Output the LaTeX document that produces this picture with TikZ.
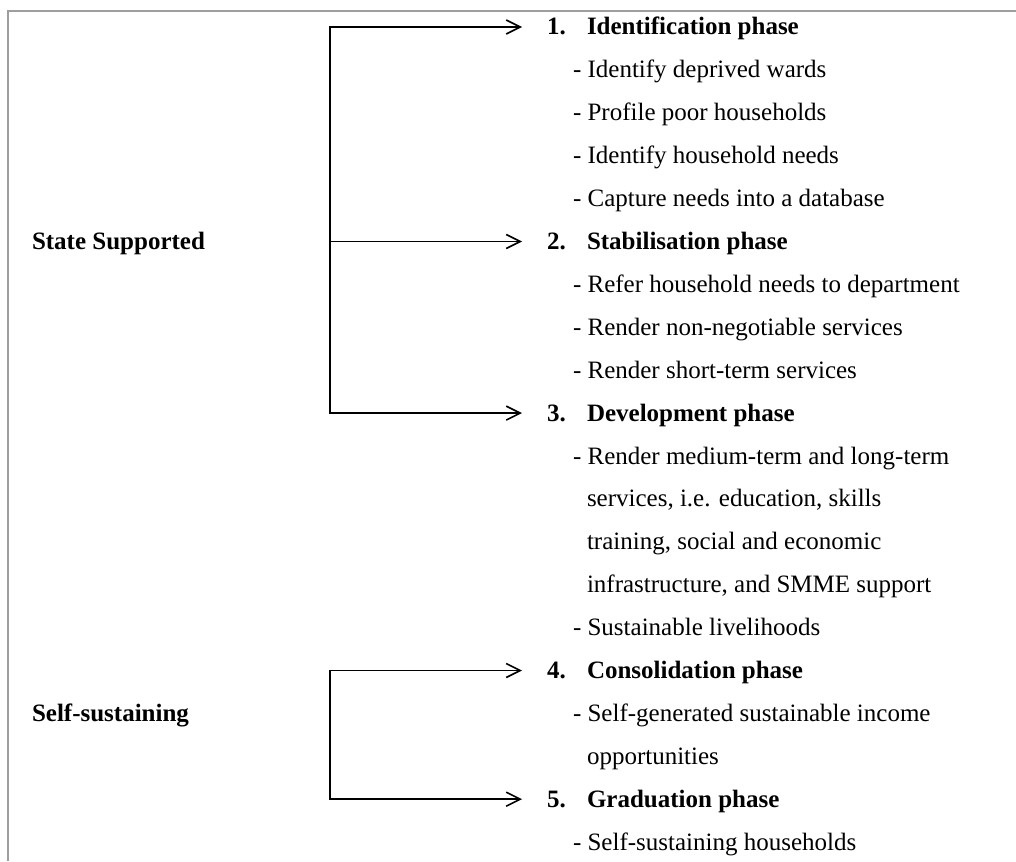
\documentclass[tikz,border=0pt]{standalone}
\usepackage{fontspec}
\setmainfont{Liberation Serif}
\usetikzlibrary{arrows.meta}
\begin{document}
\begin{tikzpicture}[x=1pt,y=-1pt,
  every node/.style={inner sep=0pt, outer sep=0pt, font=\fontsize{25}{30}\selectfont},
  item/.style={anchor=base west},
  head/.style={anchor=base west, font=\fontsize{25}{30}\selectfont\bfseries},
  conn/.style={line width=1.6pt, shorten >=25pt, -{Straight Barb[length=14pt,width=14pt,line width=1.6pt]}},
  bar/.style={line width=1.6pt, line cap=rect},
  frame/.style={draw=black!38, line width=1.4pt}]
\useasboundingbox (0,0) rectangle (1016,861);
\draw[frame] (8,861) -- (8,11) -- (1016,11);

% left labels
\node[head] (ss) at (32,249.5) {State Supported};
\node[head] (self) at (32,721.4) {Self-sustaining};

% phase headings
\node[head] (h1) at (547,35)    {\makebox[40pt][l]{1.}Identification phase};
\node[head] (h2) at (547,249.5) {\makebox[40pt][l]{2.}Stabilisation phase};
\node[head] (h3) at (547,421.1) {\makebox[40pt][l]{3.}Development phase};
\node[head] (h4) at (547,678.5) {\makebox[40pt][l]{4.}Consolidation phase};
\node[head] (h5) at (547,807.2) {\makebox[40pt][l]{5.}Graduation phase};

% items
\node[item] (i11) at (573,77.9)  {- Identify deprived wards};
\node[item] (i12) at (573,120.8) {- Profile poor households};
\node[item] (i13) at (573,163.7) {- Identify household needs};
\node[item] (i14) at (573,206.6) {- Capture needs into a database};
\node[item] (i21) at (573,292.4) {- Refer household needs to department};
\node[item] (i22) at (573,335.3) {- Render non-negotiable services};
\node[item] (i23) at (573,378.2) {- Render short-term services};
\node[item] (i31) at (573,464)   {- Render medium-term and long-term};
\node[item] (i32) at (587,506.9) {services, i.e. education, skills};
\node[item] (i33) at (587,549.8) {training, social and economic};
\node[item] (i34) at (587,592.7) {infrastructure, and SMME support};
\node[item] (i35) at (573,635.6) {- Sustainable livelihoods};
\node[item] (i41) at (573,721.4) {- Self-generated sustainable income};
\node[item] (i42) at (587,764.3) {opportunities};
\node[item] (i51) at (573,850.1) {- Self-sustaining households};

% bracket points
\coordinate (b1) at (330,27);
\coordinate (b2) at (330,241.5);
\coordinate (b3) at (330,413.1);
\coordinate (b4) at (330,670.5);
\coordinate (b5) at (330,799.2);

\draw[bar] (b1) -- (b3);
\draw[bar] (b4) -- (b5);
\draw[conn] (b1) -- (b1 -| h1.west);
\draw[conn] (b2) -- (b2 -| h2.west);
\draw[conn] (b3) -- (b3 -| h3.west);
\draw[conn] (b4) -- (b4 -| h4.west);
\draw[conn] (b5) -- (b5 -| h5.west);
\end{tikzpicture}
\end{document}
